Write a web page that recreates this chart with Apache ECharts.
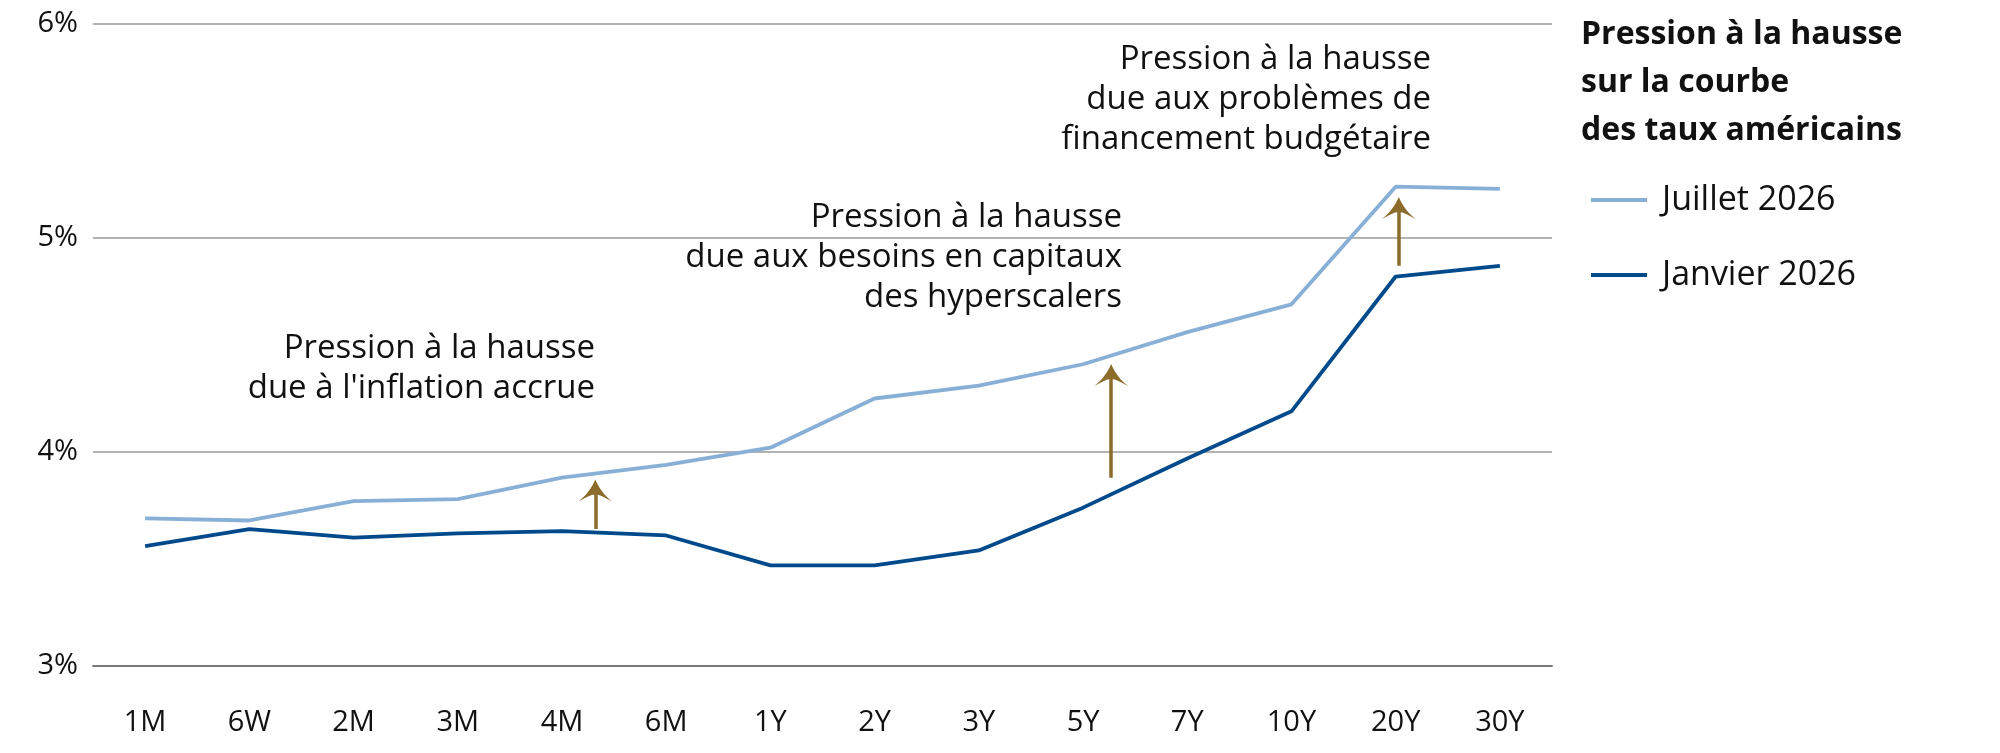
<!DOCTYPE html>
<html>
<head>
<meta charset="utf-8">
<script src="https://cdn.jsdelivr.net/npm/echarts@6/dist/echarts.min.js"></script>
<style>
  html, body { margin: 0; padding: 0; background: #fff; }
  #chart { width: 2000px; height: 753px; }
</style>
</head>
<body>
<div id="chart"></div>
<script>
// maturités de la courbe
var tenors = ['1M', '6W', '2M', '3M', '4M', '6M', '1Y', '2Y', '3Y', '5Y', '7Y', '10Y', '20Y', '30Y'];
var juillet2026 = [3.69, 3.68, 3.77, 3.78, 3.88, 3.94, 4.02, 4.25, 4.31, 4.41, 4.56, 4.69, 5.24, 5.23];
var janvier2026 = [3.56, 3.64, 3.60, 3.62, 3.63, 3.61, 3.47, 3.47, 3.54, 3.74, 3.97, 4.19, 4.82, 4.87];
var yTicks = [3, 4, 5, 6];

// flèches (position en index de maturité, du bas vers le centre de la pointe)
var arrowX = [4.32, 9.27, 12.03];
var arrowFrom = [3.64, 3.88, 4.87];
var arrowTo = [3.82, 4.36, 5.14];

var FONT = '"Open Sans", "Noto Sans", sans-serif';
var light = '#88b0d6';
var dark = '#004a8c';
var gold = '#8b6c2a';
var headPath = 'path://M15,0 C18,7 23,14 30,19 C24,16 19,13 15,13 C11,13 6,16 0,19 C7,14 12,7 15,0 Z';

var myChart = echarts.init(document.getElementById('chart'));

var arrowShafts = arrowX.map(function (x, i) {
    return { coords: [[x, arrowFrom[i]], [x, arrowTo[i]]] };
});
var arrowHeads = arrowX.map(function (x, i) {
    return [x, arrowTo[i]];
});

var option = {
    animation: false,
    backgroundColor: '#fff',
    textStyle: { fontFamily: FONT },
    title: {
        text: 'Pression à la hausse\nsur la courbe\ndes taux américains',
        left: 1576,
        top: 6,
        textStyle: {
            fontFamily: FONT,
            fontSize: 32,
            fontWeight: 'bold',
            color: '#111',
            lineHeight: 48
        }
    },
    legend: {
        data: ['Juillet 2026', 'Janvier 2026'],
        orient: 'vertical',
        left: 1586,
        top: 176,
        icon: 'rect',
        itemWidth: 56,
        itemHeight: 4,
        itemGap: 37,
        textStyle: {
            fontFamily: FONT,
            fontSize: 34,
            color: '#111',
            lineHeight: 38,
            padding: [0, 0, 0, 10]
        }
    },
    grid: {
        left: 93,
        right: 448,
        top: 24,
        bottom: 87,
        containLabel: false
    },
    xAxis: [
        {
            type: 'category',
            data: tenors,
            boundaryGap: true,
            axisLine: { lineStyle: { color: '#7a7a7a', width: 2 } },
            axisTick: { alignWithLabel: true, length: 15, lineStyle: { color: '#aaa', width: 2 } },
            axisLabel: { fontFamily: FONT, fontSize: 29, color: '#111', margin: 42 }
        },
        {
            // axe caché pour placer les flèches entre deux maturités
            type: 'value',
            min: -0.5,
            max: 13.5,
            show: false
        }
    ],
    yAxis: {
        type: 'value',
        min: yTicks[0],
        max: yTicks[yTicks.length - 1],
        interval: 1,
        axisLine: { show: false },
        axisTick: { show: false },
        axisLabel: {
            fontFamily: FONT, fontSize: 29, color: '#111', margin: 15,
            formatter: '{value}%'
        },
        splitLine: { lineStyle: { color: '#9a9a9a', width: 1.5 } }
    },
    series: [
        {
            name: 'Juillet 2026',
            type: 'line',
            data: juillet2026,
            showSymbol: false,
            color: light,
            lineStyle: { color: light, width: 3.8 }
        },
        {
            name: 'Janvier 2026',
            type: 'line',
            data: janvier2026,
            showSymbol: false,
            color: dark,
            lineStyle: { color: dark, width: 3.8 }
        },
        {
            name: 'shafts',
            type: 'lines',
            coordinateSystem: 'cartesian2d',
            xAxisIndex: 1,
            yAxisIndex: 0,
            silent: true,
            symbol: ['none', 'none'],
            lineStyle: { color: gold, width: 3.5, opacity: 1 },
            data: arrowShafts
        },
        {
            name: 'heads',
            type: 'scatter',
            xAxisIndex: 1,
            yAxisIndex: 0,
            silent: true,
            symbol: headPath,
            symbolSize: [34, 22],
            symbolKeepAspect: false,
            itemStyle: { color: gold, opacity: 1 },
            data: arrowHeads
        }
    ],
    graphic: [
        {
            type: 'text',
            style: {
                text: 'Pression à la hausse\ndue à l\'inflation accrue',
                x: 595, y: 329,
                align: 'right', verticalAlign: 'top',
                fontFamily: FONT, fontSize: 33, lineHeight: 40, fill: '#111'
            }
        },
        {
            type: 'text',
            style: {
                text: 'Pression à la hausse\ndue aux besoins en capitaux\ndes hyperscalers',
                x: 1122, y: 198,
                align: 'right', verticalAlign: 'top',
                fontFamily: FONT, fontSize: 33, lineHeight: 40, fill: '#111'
            }
        },
        {
            type: 'text',
            style: {
                text: 'Pression à la hausse\ndue aux problèmes de\nfinancement budgétaire',
                x: 1431, y: 40,
                align: 'right', verticalAlign: 'top',
                fontFamily: FONT, fontSize: 33, lineHeight: 40, fill: '#111'
            }
        }
    ]
};

myChart.setOption(option);
</script>
</body>
</html>
